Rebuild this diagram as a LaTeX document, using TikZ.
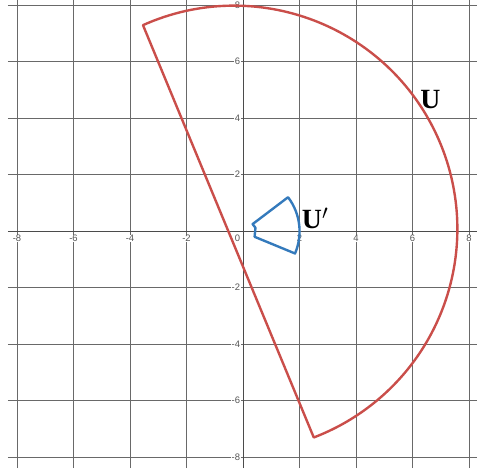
\documentclass[tikz,border=0pt]{standalone}
\usepackage{fontspec}
\setmainfont{Liberation Serif}
\newfontfamily\ticksfont{Liberation Sans}
\definecolor{ured}{RGB}{202,78,74}
\definecolor{ublue}{RGB}{52,122,188}
\definecolor{gridc}{RGB}{105,105,105}
\definecolor{axisc}{RGB}{75,75,75}
\definecolor{tickc}{RGB}{85,85,85}
\tikzset{
  gridline/.style={draw=gridc, line width=0.7pt},
  axisline/.style={draw=axisc, line width=1.0pt},
  ticklbl/.style={font=\ticksfont\fontsize{9.5}{11}\selectfont, text=tickc, fill=white, inner sep=0.5pt},
  curve/.style={line width=2.4pt, line join=round, line cap=round},
  biglbl/.style={font=\bfseries\fontsize{28}{30}\selectfont, inner sep=0pt}
}
\begin{document}
\begin{tikzpicture}[x=1cm,y=1cm]
\useasboundingbox (-8.60,-8.39) rectangle (8.28,8.18);
\fill[white] (-8.60,-8.39) rectangle (8.28,8.18);
% grid
\foreach \k in {-8,-6,-4,-2,2,4,6,8} {
  \draw[gridline] (\k,-8.39) -- (\k,8.18);
  \draw[gridline] (-8.32,\k) -- (8.28,\k);
}
\draw[axisline] (-8.32,0) -- (8.28,0);
\draw[axisline] (0,-8.39) -- (0,8.18);
% tick labels
\foreach \k in {-8,-6,-4,-2,2,4,6,8} {
  \node[ticklbl] (tx\k) at (\k,-0.26) {\k};
}
\foreach \k in {-8,-6,-4,-2,2,4,6} {
  \node[ticklbl, anchor=east] (ty\k) at (-0.08,\k) {\k};
}
\node[ticklbl, anchor=east] (ty8) at (-0.08,7.98) {8};
\node[ticklbl, anchor=east] (t0) at (-0.08,-0.26) {0};
% region U
\coordinate (P4) at (-3.54,7.29);
\draw[curve, ured] (P4) arc[start angle=114.1, end angle=-69.1, radius=7.9] -- cycle;
% region U'
\coordinate (A) at (1.58,1.19);
\coordinate (B) at (0.34,0.25);
\coordinate (C) at (0.44,0.12);
\coordinate (D) at (0.41,-0.20);
\coordinate (E) at (1.84,-0.79);
\draw[curve, ublue] (A) -- (B) -- (C) -- (D) -- (E) arc[start angle=-23.2, end angle=37.0, radius=1.99] -- cycle;
% labels
\node[biglbl, anchor=base west] (lU) at (6.27,4.35) {U};
\node[biglbl, anchor=base west] (lUp) at (2.08,0.10) {U$'$};
\end{tikzpicture}
\end{document}
